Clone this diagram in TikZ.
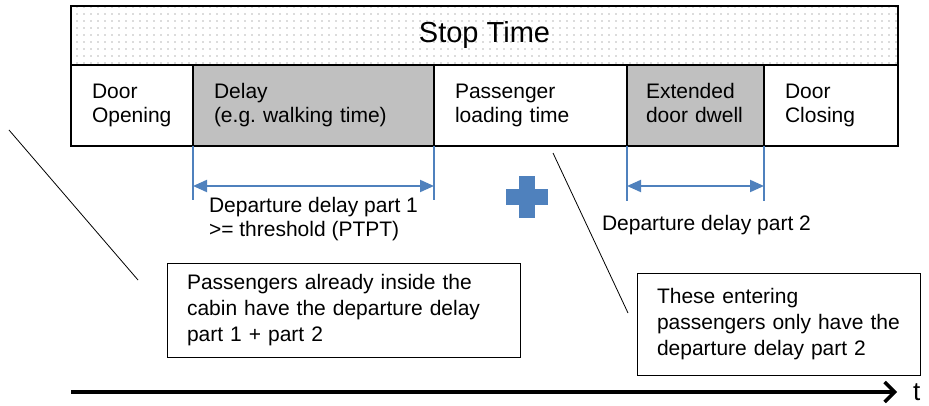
\documentclass[tikz,border=0pt]{standalone}
\usepackage{fontspec}
\setmainfont{Liberation Sans}
\usetikzlibrary{arrows.meta,positioning,patterns.meta}

\definecolor{dimblue}{HTML}{4F81BD}
\definecolor{cellgray}{HTML}{C0C0C0}

\tikzdeclarepattern{
  name=stopdots,
  type=uncolored,
  bottom left={(-1pt,-1pt)},
  top right={(1pt,1pt)},
  tile size={(7pt,7pt)},
  code={\fill (0pt,0pt) circle (0.8pt);}
}

\frenchspacing

\begin{document}
\begin{tikzpicture}[x=1pt, y=-1pt,
      every node/.append style={align=left, inner sep=0pt, outer sep=0pt,
        font=\fontsize{21}{24}\selectfont},
      bar/.style={draw, line width=2pt, minimum width=827pt, minimum height=59pt,
        pattern=stopdots, pattern color=gray!55, font=\fontsize{29}{34}\selectfont},
      cell/.style={draw, line width=2pt, minimum height=81pt, inner xsep=21pt,
        execute at begin node=\strut, execute at end node=\strut},
      shade/.style={cell, fill=cellgray},
      note/.style={draw, line width=1pt, inner xsep=20pt, font=\fontsize{21}{26}\selectfont},
      tick/.style={dimblue, line width=2pt},
      dim/.style={tick, {Triangle[length=14pt,width=12pt]}-{Triangle[length=14pt,width=12pt]}},
      leader/.style={line width=0.8pt},
      axis/.style={line width=3.5pt, -{Straight Barb[length=10pt,width=20pt]}}]

  \useasboundingbox (0,0) rectangle (929,406);

  % stop time bar and its phases
  \node[bar, anchor=north west] (stop) at (71,6) {Stop Time};
  \node[cell, text width=80pt, anchor=north west] (open) at (stop.south west) {Door\\Opening};
  \node[shade, text width=199pt, right=0pt of open] (delay) {Delay\\(e.g. walking time)};
  \node[cell, text width=151pt, right=0pt of delay] (load) {Passenger\\loading time};
  \node[shade, inner xsep=19pt, text width=99pt, right=0pt of load] (dwell) {Extended\\door dwell};
  \node[cell, text width=92pt, right=0pt of dwell] (close) {Door\\Closing};

  % departure delay part 1
  \coordinate[below=54pt of delay.south west] (d1a);
  \coordinate[below=54pt of delay.south east] (d1b);
  \draw[tick] (delay.south west) -- (d1a);
  \draw[tick] (delay.south east) -- (d1b);
  \draw[dim] ([yshift=-40pt]delay.south west) -- ([yshift=-40pt]delay.south east);
  \node[below right=51pt and 16pt of delay.south west] (part1)
    {Departure delay part 1\\>= threshold (PTPT)};

  % departure delay part 2
  \coordinate[below=55pt of dwell.south west] (d2a);
  \coordinate[below=55pt of dwell.south east] (d2b);
  \draw[tick] (dwell.south west) -- (d2a);
  \draw[tick] (dwell.south east) -- (d2b);
  \draw[dim] ([yshift=-40pt]dwell.south west) -- ([yshift=-40pt]dwell.south east);
  \node[below right=69pt and -25pt of dwell.south west] (part2) {Departure delay part 2};

  % plus sign
  \coordinate[below right=51pt and 93pt of load.south west] (plus);
  \fill[dimblue] ([shift={(-8pt,-21pt)}]plus) rectangle ([shift={(8pt,21pt)}]plus);
  \fill[dimblue] ([shift={(-21pt,-8pt)}]plus) rectangle ([shift={(21pt,8pt)}]plus);

  % notes
  \node[note, text width=313pt, minimum height=94pt, anchor=north west] (inside) at (167,263)
    {Passengers already inside the\\cabin have the departure delay\\part 1 + part 2};
  \node[note, text width=243pt, minimum height=102pt, anchor=north west] (entering) at (637,273)
    {These entering\\passengers only have the\\departure delay part 2};

  % leader lines
  \coordinate (l1a) at (9,130);
  \coordinate (l1b) at (138,280);
  \coordinate (l2a) at (553,153);
  \coordinate (l2b) at (628,313);
  \draw[leader] (l1a) -- (l1b);
  \draw[leader] (l2a) -- (l2b);

  % time axis
  \coordinate (t0) at (71,392);
  \coordinate (tend) at (897,392);
  \draw[axis] (t0) -- (tend);
  \node[right=16pt of tend, font=\fontsize{26}{30}\selectfont] (tlabel) {t};
\end{tikzpicture}
\end{document}
